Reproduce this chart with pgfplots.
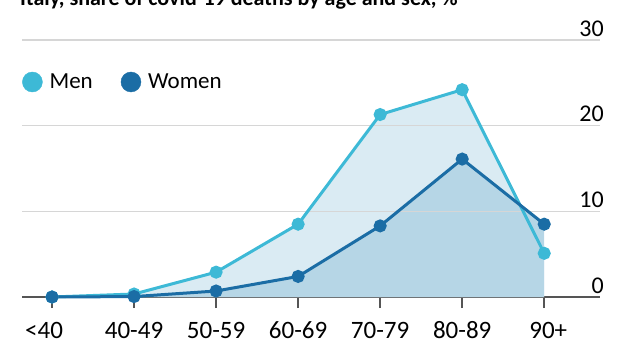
\documentclass[border=0pt]{standalone}
\usepackage{pgfplots}
\pgfplotsset{compat=1.18}
\usepackage{fontspec}
\setmainfont{Carlito}
\definecolor{menline}{HTML}{3DB9D6}
\definecolor{womenline}{HTML}{1B6DA5}
\definecolor{menfill}{HTML}{DAEBF3}
\definecolor{womenfill}{HTML}{B6D6E6}
\definecolor{gridc}{HTML}{D6D6D6}
\definecolor{axisc}{HTML}{555555}
\pgfplotstableread{
x men women
0 0.0  0.0
1 0.35 0.05
2 2.9  0.7
3 8.5  2.4
4 21.3 8.3
5 24.2 16.1
6 5.1  8.5
}\deaths
\begin{document}
\begin{tikzpicture}
\useasboundingbox (-22pt,-46pt) rectangle (596pt,297pt);
\node[anchor=base west, font=\fontsize{22}{26}\selectfont\bfseries, inner sep=0pt] at (-2pt,291pt) {Italy, share of covid-19 deaths by age and sex, \%};
\begin{axis}[
  at={(0pt,0pt)}, anchor=south west,
  scale only axis, width=578pt, height=257pt,
  xmin=-0.366, xmax=6.68, ymin=0, ymax=30,
  clip=false,
  axis x line*=bottom, axis y line*=right,
  x axis line style={draw=axisc, line width=2.5pt, -},
  y axis line style={draw=none},
  xtick={0,...,6},
  xticklabels={\hspace*{-16pt}<40,40-49,50-59,60-69,70-79,80-89,\hspace*{8pt}90+},
  xtick style={draw=axisc, line width=2pt},
  tick align=outside, major tick length=11pt,
  xticklabel style={anchor=base, yshift=-30pt, font=\fontsize{25}{25}\selectfont, inner sep=0pt},
  ytick={0,10,20,30},
  ytick style={draw=none},
  yticklabel style={anchor=base east, font=\fontsize{24}{24}\selectfont, inner sep=0pt, xshift=-7pt, yshift=4pt},
  /pgf/number format/assume math mode=true,
  legend style={draw=none, fill=none, at={(0pt,215pt)}, anchor=west, font=\fontsize{23}{23}\selectfont, legend columns=2,
    /tikz/every even column/.append style={column sep=26pt},
    /tikz/every odd column/.append style={column sep=5pt}, inner sep=0pt},
  legend cell align=left,
]
\addlegendimage{legend image code/.code={\fill[menline] (0pt,0pt) circle (10pt);}}
\addlegendentry{Men}
\addlegendimage{legend image code/.code={\fill[womenline] (0pt,0pt) circle (10pt);}}
\addlegendentry{Women}
\addplot[draw=none, fill=menfill, forget plot] table[x=x, y=men] {\deaths} \closedcycle;
\addplot[draw=none, fill=womenfill, forget plot] table[x=x, y=women] {\deaths} \closedcycle;
\addplot[gridc, line width=1.2pt, forget plot] coordinates {(-0.366,10) (6.68,10)};
\addplot[gridc, line width=1.2pt, forget plot] coordinates {(-0.366,20) (6.68,20)};
\addplot[gridc, line width=1.2pt, forget plot] coordinates {(-0.366,30) (6.68,30)};
\addplot[menline, line width=3pt, mark=*, mark size=5pt, forget plot] table[x=x, y=men] {\deaths};
\addplot[womenline, line width=3pt, mark=*, mark size=5pt, forget plot] table[x=x, y=women] {\deaths};
\end{axis}
\end{tikzpicture}
\end{document}
